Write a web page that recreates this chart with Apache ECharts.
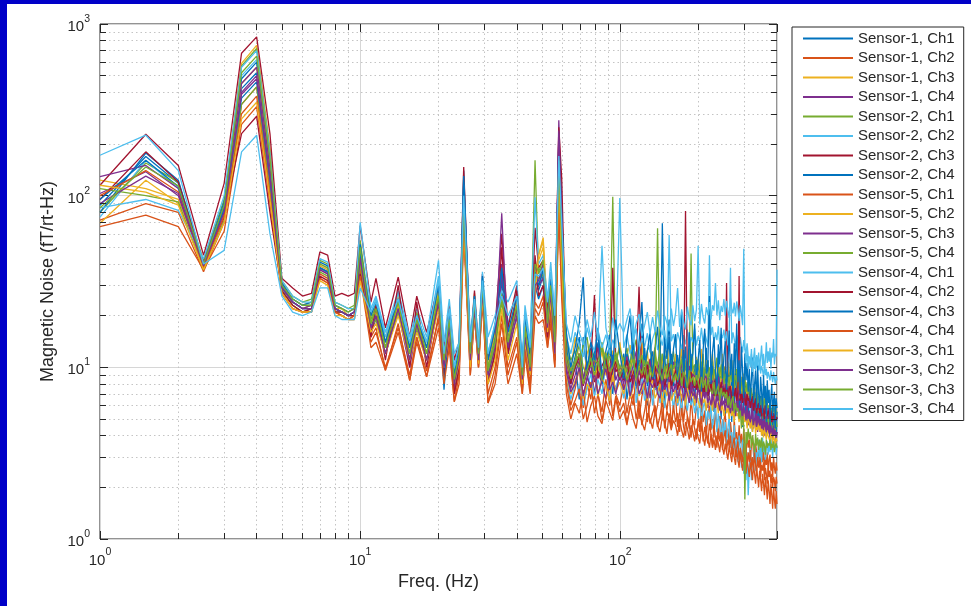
<!DOCTYPE html>
<html><head><meta charset="utf-8">
<script src="https://cdn.jsdelivr.net/npm/echarts@6/dist/echarts.min.js"></script>
<style>html,body{margin:0;padding:0;background:#0000c8;width:971px;height:606px;overflow:hidden}
#c{position:absolute;left:7px;top:4px;width:964px;height:602px;background:#fff}</style>
</head><body><div id="c"></div>
<script>
const freq = [1,1.5,2,2.5,3,3.5,4,4.5,5,5.5,6,6.5,7,7.5,8,8.5,9,9.5,10,
 11,11.5,12.5,14,15.5,16.5,18,20,21,22,23,24,
 25,26.5,27.5,28.5,29.5,31,33,35,37,40,42,43,45,47,48.5,50.5,52.5,54,56,58,59.5,
 62,64.5,67,69.5,72,74.5,77,79.5,82,85,88,91,93.5,96,99.5,
 103,106,109,112,115,118,121,124,127,130,
 133,136,139,142,145,148,151,154,157,160,
 163,166,169,172,175,178,181,184,187,190,
 193,196,199,202,205,208,211,214,217,220,
 223,226,229,232,235,238,241,244,247,250,
 253,256,259,262,265,268,271,274,277,280,
 283,286,289,292,295,298,301,304,307,310,
 313,316,319,322,325,328,331,334,337,340,
 343,346,349,352,355,358,361,364,367,370,
 373,376,379,382,385,388,391,394,397,400];

const s1c1 = [88,169,118,38,80,420,520,140,29,24,22,23,38,36,22,21,20,21,45,
 18,22,13,24,12,19,12,26,10,18,8,11,
 140,12,24,11,30,9,14,35,14,22,8.5,16,10,30,25,30,17,28,13,200,70,
 14,8,11,6.5,15,9,7.5,12,16,8,10,13,7,11,9,
 12,6.5,9,14,7.5,10,18,8,6,11, 9,13,7,8.5,12,6,10,15,7.5,9,
 11,6,8,13,9.5,5.8,10,7,12,8, 6.5,9,11,7,5.5,10,8,13,6.2,9,
 7.5,11,5.5,8.5,6.5,12,7,5,9.5,7.8, 5.2,8,10,6,7,4.8,9,6.5,11,5.5,
 7.2,5,8.5,6,4.5,9,6.8,5.2,7.5,4.6, 6.5,8,5,4.2,7,5.8,4.4,7.6,5,6,
 4.3,6.8,5.4,4,6.2,4.8,7,4.1,5.6,4.5, 6,3.8,5.2,4.6,3.9,6.4,4.4,5,3.7,5.5];
const s1c2 = [66,77,66,37,62,260,330,90,27,22,21,22,33,31,21,20,19,20,36,
 15,17,9.6,18,8.4,15,8.8,20,9,14,6.3,9,
 70,9,20,10,25,6.2,9,18,9,14,7,12,7.5,22,20,24,13,20,10,90,30,
 9,6,7.5,10,5.8,8,6.5,11,7,5.5,8.5,6,9.5,7,6,
 8,5.4,7,6,9,5,6.8,7.8,4.8,6.2, 7.4,5.2,6,8.2,4.9,6.6,5.6,7.2,4.6,5.9,
 6.8,4.5,5.5,7,4.8,6.2,5.2,4.4,6.6,5, 4.6,6,5.4,4.2,6.4,4.8,5.6,4,5.2,6,
 4.3,5,3.9,5.8,4.4,3.8,5.2,4.6,3.6,4.9, 5.4,3.9,4.4,3.5,4.8,4,3.4,5,3.8,4.2,
 3.3,4.6,3.6,4.1,3.2,4.4,3.5,3,4.2,3.4, 3.8,2.9,3.5,4,3.1,2.8,3.6,3.2,2.7,3.4,
 3,2.6,3.3,2.8,3.5,2.5,3,2.7,3.2,2.4, 2.9,3.1,2.5,2.8,2.3,3,2.6,2.4,2.8,2.5];
const s1c3 = [123,110,95,40,90,590,750,190,31,25,23,24,40,38,23,22,21,22,50,
 20,24,15,26,13,20,14,30,12,20,9,12,
 90,13,27,12,32,10,16,30,16,25,9,18,11,35,45,57,20,30,15,160,60,
 13,9.5,15,11,8.5,12,14,10,9,13,11.5,8.8,12.5,10,14,
 9.5,12,13.5,8.6,11,10,14,9,12.5,8.4, 11.5,13,9.2,10.5,8.5,12,14,9.6,10.8,8.8,
 12,9,10.5,13,8.2,11,9.5,12.5,8.6,10.2, 9,11.5,8.4,10,12.8,9.2,8,11,9.8,8.6,
 10.4,12,8.2,9.4,11.2,7.8,10,8.8,12,8.4, 9.6,7.6,10.8,8.8,9.4,7.4,11,8.2,9,7.8,
 8.4,10,7.2,8.8,6.8,9.2,7.6,8,6.6,7.4, 8,6.2,7.2,6.6,5.8,7.6,6.4,6,7,5.6,
 6.6,5.4,6.2,7,5.2,6,5.6,4.8,6.4,5.2, 5.8,4.9,5.6,5,4.6,6,5.2,4.5,5.4,5];
const s1c4 = [103,138,100,38,82,400,500,130,30,24,22,22,37,35,22,21,20,20,42,
 16,20,12,22,11,17,11,23,10,17,7.5,10.5,
 100,11,22,11,28,8,12,40,12,20,8,15,9,28,30,36,16,25,12,275,80,
 10,7.5,9,11,6.8,8.5,10.5,7,9.5,8,6.5,10,8.8,7.2,9.6,
 8,10,6.8,9,7.6,11,7,8.4,9.6,6.6, 9.2,7.4,8,10.2,6.8,8.6,7.2,9.4,6.5,8.2,
 7.6,9.8,6.6,8,8.8,6.4,7.8,9,6.2,8.4, 7,6,8.6,7.4,6.2,9,6.6,7.8,5.8,7.2,
 8.2,6,7,5.6,8,6.4,7.2,5.4,6.8,7.6, 5.8,6.6,7.4,5.2,6.8,6,5.4,7,5.6,6.2,
 6.6,5,5.8,6.4,4.8,6,5.4,5,6.2,4.6, 5.6,4.5,5.4,6,4.4,5,4.6,5.6,4.2,5.2,
 4.8,4.2,5.4,4.4,4.9,4,5.2,4.3,4.6,4.1, 4.8,3.9,4.5,4.2,3.8,4.6,4,4.4,3.7,4.2];
const s2c1 = [80,155,120,42,95,570,720,180,32,26,24,25,42,40,24,23,22,23,55,
 19,23,14,25,13,21,13,28,12,21,9,12,
 95,13,26,12,31,10,15,28,15,24,9.5,19,11,161,35,40,18,30,14,140,55,
 14,11,12.5,9.5,13.5,15,10,12,11,14,9.8,12.8,98.5,11,13,
 10.5,13,9.6,12,14.5,10,11.2,9,12.6,13.4, 9.4,11.8,10.2,13,8.8,11,12.2,9.2,10.6,12.4,
 9,11.4,10,8.6,12,9.6,10.8,8.4,11.6,9.8, 10.4,8.4,11.2,9,10,12,8.6,9.6,11,8.8,
 9.4,10.8,8.2,9.8,11.4,8.4,9,10.4,7.8,9.6, 10.2,8,9.2,7.8,10.6,8.6,9.4,7.6,8.8,9.8,
 7.8,8.4,9.4,7.2,8.2,6.8,8.8,7.4,6.6,8, 7,6.2,7.6,5.8,6.8,6.4,5.6,7.2,5.4,6.4,
 5.8,5.2,6.6,5,5.6,6,4.8,5.4,5.8,4.6, 5.4,4.8,5.6,4.4,5,4.6,5.2,4.2,4.9,4.5];
const s2c2 = [75,160,110,39,88,500,620,160,30,25,23,23,39,37,23,22,20,21,48,
 21,25,15,27,14,20,14,34,13,22,10,13,
 110,14,25,13,33,12,18,30,18,28,10,20,12,40,32,38,22,33,16,150,65,
 9,6.5,8,10,6,7.5,9.2,6.8,8.5,7,10.5,6.4,8.2,7.6,9,
 6.6,8.4,7,20,6.2,7.8,8.8,6.4,7.4,9, 6,7.6,8.4,6.2,7.2,5.8,8,6.6,7.4,5.6,
 7.8,6,6.8,5.4,7.6,6.4,5.6,7,6,6.6, 5.4,6.2,5,6.8,4.8,5.8,6.4,4.6,5.6,5,
 6,4.4,5.2,5.8,4.2,5.4,4.6,3.8,5,4, 4.8,3.6,4.4,5.2,3.4,4.2,3,4.6,3.2,3.8,
 2.8,4,3.4,2.6,3.8,2.4,3.6,2.2,3.2,1.8, 2.6,3.4,2.2,3,2.8,3.6,2.5,3.2,2.9,3.8,
 3,3.5,2.8,3.9,3.2,3.6,2.9,3.4,3.7,3.1, 3.6,3.2,3.9,3.4,3,3.7,3.3,3.8,3.1,3.5];
const s2c3 = [115,228,150,45,118,676,842,230,33,29,26,27,47,45,26,27,26,27,67,
 24,33,17,33.5,15,26,16,30,13,23,11,14,
 147,13,28,13,35,11,17,60,17,30,10,21,12,65,38,42,21,35,17,250,127,
 12,8.5,10,11.5,8,9.5,13,8.2,10.8,9,11,7.8,38,9.4,10.2,
 8.4,11,9.6,7.8,10.4,29.5,8.6,10,8,11.2, 9.2,7.6,10.2,8.8,7.4,9.8,8.4,10.6,7.6,9,
 8.6,10,7.4,9.2,8,7.2,9.6,8.2,7,8.8, 9.4,7.4,8.4,7,9,8,7.2,8.6,6.8,8.2,
 7.6,8.8,6.8,8,7.4,9,6.6,7.8,8.4,6.8, 7.6,31,7,8.2,6.6,7.4,8,6.4,7.2,6.8,
 7.8,6.4,7,8,6.2,7.4,6.6,6,7.2,6.4, 6.8,5.8,6.4,7,5.6,6.2,6.6,5.4,6,5.8,
 6.4,5.2,5.8,6.2,5,5.6,6,5.2,5.4,5.8, 5,5.6,5.2,4.8,5.4,5,5.6,4.8,5.2,5];
const s2c4 = [80,177,123,40,92,480,600,150,31,25,23,24,41,39,23,22,21,22,52,
 17,21,13,23,11,18,12,25,10,19,8,11,
 120,12,23,11,29,9,14,32,13,23,9,16,10,32,28,34,17,30,14,190,75,
 13,9,11.5,15,8.5,10,12.5,9.5,14,8,11,13.5,9,12,10,
 8.6,12,10.4,14,8,11,9.2,13,7.8,10.6, 12.4,8.4,10,9,69,11.6,8.2,9.8,12,7.8,
 10.2,11.8,8,9.4,12.6,7.6,10,8.6,11.2,7.8, 9.6,11,7.4,8.8,10.4,7.2,9.8,8,11,7.4,
 8.4,10.2,7,9.4,7.8,10.6,6.8,8.6,9.2,7, 9.6,6.8,8,9,6.6,8.6,7.4,6.4,9.2,7,
 7.6,8.4,6.2,7.2,8.8,6,7.8,6.6,7,8, 6.2,7.4,5.8,6.8,5.6,7.2,6,5.4,6.6,5.8,
 6.4,5.2,5.8,6.6,5,6,5.4,4.8,6.2,5.2, 5.6,4.8,5.4,5.8,4.6,5.2,5,4.4,5.4,5];
const s5c1 = [72,90,80,36,70,340,430,110,28,23,21,21,35,33,21,20,19,19,38,
 14,16,10,17,9,15,9.5,19,8.5,15,7,9.5,
 65,10,21,10,26,7,10,20,10,15,7.5,13,8,24,22,26,14,22,11,100,35,
 8,5.6,6.4,7.5,5,6,8.2,5.4,7,4.9,6.6,7.8,5.2,6.8,5.5,
 6.2,4.8,5.8,7,5,6.4,4.6,5.6,6.8,4.7, 5.4,6,4.5,5.2,6.4,4.4,5.6,5,4.3,6,
 4.8,5.4,4.2,5.8,4.5,4,5.2,4.6,3.9,5, 4.4,3.8,4.9,4.2,5.2,3.7,4.5,4,3.6,4.7,
 4.1,3.5,4.6,3.9,3.4,4.4,3.7,4.2,3.3,3.9, 4.3,3.2,3.8,3.5,4,3.1,3.6,3.9,3,3.4,
 3.7,2.9,3.4,3.1,2.8,3.6,3,3.3,2.7,3.2, 2.8,3.3,2.6,3,2.5,3.2,2.7,2.4,3,2.6,
 2.9,2.3,2.7,2.5,2.8,2.2,2.6,2.4,2.1,2.6, 2.3,2.5,2.1,2.4,2,2.3,2.2,1.9,2.3,2.1];
const s5c2 = [69,123,90,38,78,450,560,145,29,24,22,23,39,37,22,22,20,21,46,
 18,21,13,23,12,19,12,27,11,19,8.5,11.5,
 85,12,25,12,30,9,13,26,14,24,9,17,10,30,42,50,18,28,13,170,50,
 11,8.6,10.4,12,8,9.6,11.5,8.8,10,12.4,9,10.6,8.4,11.2,9.4,
 11,8.4,9.8,12,8.8,10.2,9,11.4,8.2,10, 9.2,10.8,8,9.6,11.2,8.6,10,8.2,9.4,10.6,
 8.4,9.8,10.6,8,9.2,8.8,10.4,7.8,9,9.6, 8,9.4,7.6,10,8.4,9,7.8,9.6,8.2,7.6,
 9.2,7.4,8.6,9.6,7.6,8.2,7.2,8.8,7.8,8.4, 7,8.4,7.6,8.8,7.2,7.8,6.8,8.2,7.4,7,
 7.8,6.6,7.2,8,6.4,7.4,6.8,6.2,7.6,6.6, 6.8,6,7,6.2,5.8,6.6,6.2,5.6,6.8,6,
 6.2,5.6,6,5.4,6.4,5.8,5.2,6,5.6,5.4, 5.8,5.2,5.6,5,5.4,5.8,5,5.4,5.2,5.2];
const s5c3 = [129,150,110,41,86,450,560,145,30,24,22,23,38,36,22,21,20,21,44,
 16,19,12,21,10,17,11,24,9.5,17,8,10.5,
 100,11,22,11,27,8.5,12,36,12,20,8,14,9,27,30,33,15,26,12,230,70,
 11.5,9,10,12,8.6,10.8,9.2,11,13,8.8,10.4,9.6,11.8,8.4,10,
 9.4,11.6,8.8,10.2,12.4,9,10.6,8.6,9.8,11, 8.4,10,9.4,11.2,8.2,9.6,10.4,8,9.2,10.8,
 9.8,8,9.4,10.6,7.8,9,8.6,10.2,7.6,9.2, 8.8,9.8,7.6,8.4,9.4,7.4,8.6,9,7.2,8.2,
 7.8,9,7,8.4,7.6,8.8,7.2,7.8,8.6,6.8, 8,7.2,6.6,7.8,7.4,6.4,8.2,7,6.8,7.6,
 6.4,7.4,6.8,6.2,7.2,6.6,6,7,6.4,5.8, 6.8,6,6.4,5.6,6.6,5.8,6.2,5.4,6.4,5.8,
 5.6,6.2,5.4,5.8,5.2,6,5.4,5.6,5,5.8, 5.4,5,5.6,5.2,4.8,5.4,5,5.2,4.9,5.1];
const s5c4 = [110,100,92,37,72,340,430,115,28,23,21,22,36,34,21,21,20,20,40,
 17,19,12,21,11,17,11,25,10,18,8,11,
 75,11,23,11,28,9,13,24,13,22,8.5,16,10,34,33,35,16,28,13,130,45,
 12,9.5,11,13.5,10,9,12.5,11,10.4,13,9.6,11.6,10.8,12.2,9.8,
 11.4,9.4,10.6,12.6,9.2,10.2,11.8,9,10.8,10, 9.6,11.2,10,9,12,9.4,10.4,8.8,11,9.8,
 10.6,9.2,9.8,11.2,8.8,10.2,9.4,10.8,46,9.6, 9,10.4,8.6,9.6,10.8,8.4,9.8,9.2,8.6,10,
 9.4,8.4,9.8,8.8,8.2,10,9,8.6,9.6,8, 9.2,8.4,8.8,7.8,9.4,8.2,8.6,7.6,9,8.4,
 7.4,8.6,7.8,8.2,7,8,7.6,7.2,8.2,7, 7.4,6.8,7.2,6.4,7,6.6,6.2,7.2,6,6.8,
 6.4,6,6.8,5.8,6.2,6.6,5.6,6.2,5.8,6, 5.8,6.2,5.6,5.4,6,5.5,5.8,5.2,5.6,5.5];
const s4c1 = [85,95,82,43,100,560,700,175,32,26,24,24,43,41,24,23,22,22,70,
 22,26,16,28,15,22,15,42,14,25,12,14,
 115,15,26,14,36,15,20,28,24,32,11,23,14,98,40,45,25,41,20,180,60,
 15,12,16,13.5,11.5,17,14,12.5,16.5,13,15.5,12,14.5,13,97,
 13,15.5,12,14,16.8,12.4,14.8,13.2,15.8,12.2, 14.6,16.2,12.6,15,13.4,16.4,12.8,59,14.2,15.6,
 13,16,14.4,12.8,15.4,13.6,16.6,13,15,14, 16.8,13.4,15.2,14.2,17,13.6,15.8,14.6,13.2,45,
 15.4,17.2,13.8,16,14.4,17.4,13.6,15.6,14.8,16.6, 14,16.2,13.4,15.8,38,13.8,16,14.6,13.2,15.4,
 14.2,12.6,15,13.4,12.2,14.4,13,12,13.8,11.6, 11.6,10.4,12,10.2,11.2,9.8,11.4,10,10.8,9.6,
 10.6,9.2,10.2,9.6,8.8,10.4,9,9.8,8.6,9.4, 9.2,8.4,9.6,8.8,8.2,9.4,8.6,8,9,8.4];
const s4c2 = [95,180,120,40,75,230,290,80,28,23,21,22,34,32,21,21,20,20,35,
 15,23,11,30,10,24,10,24,9,16,7,10,
 105,11,22,11,28,8,12,50,12,28,8,15,9,45,26,30,15,24,11,220,90,
 11,8,10,12,7.8,9.4,10.6,26.4,8.6,10.2,11.4,8.2,9.8,10.8,8.4,
 9.6,11,8.2,9.2,10.6,7.8,9.8,8.6,10.4,8, 9.4,10.2,7.8,8.8,9.8,7.6,9,10,7.8,8.6,
 9.6,7.4,8.4,9.2,7.6,81.5,8.2,7.4,9.4,8, 7.6,8.8,7.2,8.4,9,7,8,7.4,8.6,7.2,
 8.2,7,7.8,8.6,6.8,7.6,7.2,8.2,6.8,7.6, 7,8,6.6,7.4,7.8,6.4,7.2,6.8,7.6,6.4,
 7.2,34,6.4,7,6.2,7.4,6.6,6,7,6.4, 6.6,5.8,6.4,6.8,5.6,6.2,6.6,5.4,6,6.2,
 5.4,6,5.2,5.8,5.6,5,6,5.4,5.2,5.6, 5.4,5,5.6,4.8,5.2,5.4,4.9,5.3,5,5.1];
const s4c3 = [95,161,113,39,84,370,460,125,29,24,22,22,38,36,22,21,20,21,47,
 20,24,14,25,13,20,13,30,7.4,20,9,13,
 130,13,26,12,34,11,17,38,16,26,10,20,12,36,30,37,19,32,15,210,80,
 16,10,13,18,33.5,9.5,14,11,17,8.8,12.5,15.5,10,19,12,
 9,15,20,11,7.8,14,24,10.2,12.4,16, 8.6,13,17.2,10,7.4,14.6,11.2,19,9,12.8,
 15.6,8.2,11.6,21,9.4,13.2,7.6,16,10.6,12, 18,8.4,11,14.4,7.2,12.6,16.8,9.2,10.8,26,
 8,12.2,15,9.6,7,13.6,10.4,17,8.6,11.4, 14.2,7.4,10.2,16.4,9,12,6.8,13.8,10,18,
 8.2,11,7,13.2,9.4,6.6,12,8.4,10.6,7.2, 9.8,6.4,8.6,11.4,6.2,8,9.6,5.8,10.2,7,
 5.8,8.8,7.2,5.4,9,6.6,7.8,5.2,8.4,6.2, 7.4,5,6.8,8,5.2,6.4,7.2,4.8,6.6,5.8];
const s4c4 = [100,140,105,38,76,300,380,100,27,22,21,21,33,31,21,20,19,20,34,
 13,14,9.6,16,8.4,14,8.8,17,8,13,6.3,8,
 60,9,20,10,24,6.2,8,15,8,12,7,12,7,20,18,19,13,18,10,80,25,
 7,5,6.2,5.4,7.4,4.8,6,6.8,5.2,4.7,6.4,5.5,4.9,6.6,5,
 5.6,4.6,6,5,4.4,5.8,4.8,4.3,5.4,5, 4.4,5.6,4.6,4.2,5.2,4.8,4.1,5.4,4.4,4.9,
 4.6,4,5,4.3,3.9,4.8,4.4,3.8,4.6,4.2, 3.7,4.4,3.9,3.6,4.6,4,3.5,4.2,3.8,3.4,
 4.1,3.4,3.8,3.3,4,3.6,3.2,3.9,3.4,3.1, 3.6,3.2,2.9,3.5,3.1,2.8,3.4,3,2.7,3.3,
 2.9,2.6,3.2,2.8,2.5,3,2.7,2.4,2.9,2.6, 2.3,2.8,2.5,2.2,2.7,2.4,2.1,2.6,2.3,2,
 2.5,2.2,1.9,2.4,2.1,1.8,2.3,2,1.7,2.2, 1.9,1.6,2.1,1.8,1.5,2,1.7,1.5,1.9,1.6];
const s3c1 = [115,105,88,37,70,280,350,95,27,22,21,21,32,30,20,20,19,19,32,
 16,18,12,20,11,16,11,22,10,16,8,10.5,
 70,10,21,10.5,26,8,11,22,11,18,8,14,9,26,45,55,16,24,12,140,40,
 9,7,8.4,9.6,6.6,8,7.4,9.2,6.8,8.6,7.8,6.4,9,7.2,8.2,
 7,8.6,6.6,7.6,9,6.8,7.4,8.2,6.4,7.8, 8.4,6.6,7.2,8,6.2,7.6,6.8,8.2,6.4,7,
 7.4,6.2,7.8,6.6,7,6,7.6,6.4,6.8,7.2, 6,7,6.4,5.8,7.2,6.2,6.6,5.6,6.8,6,
 6.4,5.6,6.8,5.8,6.2,5.4,6.6,5.6,6,5.2, 6.2,5.4,5.8,5,6,5.2,5.6,4.8,5.8,5.2,
 5.4,4.8,5.6,5,4.6,5.4,4.8,5.2,4.4,5, 4.8,4.4,5,4.2,4.6,4.9,4.1,4.6,4.3,4.8,
 4.2,4.6,4,4.4,3.9,4.5,4.1,3.8,4.3,4, 4.1,3.7,4.2,3.9,3.6,4,3.8,3.5,3.9,3.7];
const s3c2 = [90,130,103,39,80,390,480,125,29,24,22,22,37,35,22,21,20,21,43,
 17,20,12,22,11,18,11,24,10,17,8,11,
 90,11,22,11,28,9,13,79,13,22,8.5,15,9.5,30,32,40,17,27,12,240,75,
 9.4,7.2,8,10,6.8,8.8,7.6,9.2,7,8.4,9.8,7.4,8.2,7,9,
 7.4,8.8,6.8,8,9.4,7,7.8,8.6,6.6,8.2, 7.6,8.6,7,6.6,8.4,7.4,8,6.4,7.8,7.2,
 8,6.6,7.4,8.2,6.4,7.6,7,6.2,7.8,6.8, 7.2,6.4,7.6,6.8,6,7.2,6.6,7.4,6.2,6.8,
 6,7,6.4,5.8,6.8,6.2,5.6,6.6,6,6.4, 5.6,6.4,5.8,6.2,5.4,6.6,5.6,6,5.2,6.2,
 5.8,5.2,6,5.4,5,5.8,5.6,4.9,5.6,5.2, 5.4,4.8,5.2,5.6,4.6,5,5.4,4.5,5.2,4.8,
 4.6,5,4.4,4.8,4.3,5,4.5,4.2,4.8,4.4, 4.5,4.1,4.6,4.2,4,4.4,4.1,4.3,3.9,4.2];
const s3c3 = [85,147,114,40,88,520,650,165,30,25,23,23,40,38,23,22,21,22,50,
 18,22,13,24,12,19,12,26,11,19,8.5,12,
 85,12,24,12,30,9.5,14,26,14,23,9,17,10,40,36,42,18,30,14,160,55,
 11,8.6,10.4,12,8,9.6,11.4,9,10.8,8.4,12.2,9.4,10,11.6,8.8,
 10.4,8.4,9.6,11.2,8.6,10,9.2,11,8.2,9.8, 8.8,10.6,64.5,9.4,8.4,10.2,8.6,9.6,10.4,8.2,
 9.2,8.4,10,7.8,9.4,8.8,7.6,9.6,8.2,8.8, 7.8,9,8.2,7.4,8.8,7.6,8.4,7.2,8.6,7.6,
 7.8,7,8.2,6.8,7.4,7.8,6.4,7.6,6.8,7.2, 6.6,7.2,6,6.8,5.8,6.4,6.8,5.4,6.2,5.6,
 5.8,5,5.6,4.4,5.2,4.6,1.7,4.2,3.6,4.4, 3.8,4.2,3.4,4,3.6,3.2,4.1,3.5,3.9,3.3,
 3.8,3.4,3.9,3.2,3.7,3.5,3.1,3.8,3.4,3.6, 3.5,3.8,3.3,3.6,3.4,3.7,3.2,3.5,3.6,3.4];
const s3c4 = [172,225,140,40,48,180,225,60,26,21,20,21,29,29,20,19,19,19,29,
 21,24,16,25,14,20,14,32,12,22,10,14,
 100,14,25,13,32,12,18,26,20,26,10,21,13,35,34,38,24,36,20,170,70,
 18,14,20,16,13.5,19,15,21,14.5,51,17,13,19.5,15.5,18,
 16,19,22,14.8,18,20.4,15.2,17.6,21,15.6, 19.6,16,21.4,17,15.4,20,18.2,16.2,22,17.4,
 20.6,29,17.2,21.8,18.4,16.6,22.6,19,17.6,23, 18.6,21.6,51,17.8,23.4,19.6,18,22.4,20.2,24,
 19,23,21.4,31,20.2,24.6,18.8,22.8,21,25, 20,24.4,21.6,19.4,25.2,22,20.6,23.8,19.8,24.2,
 21.6,18.6,23,20.4,17.6,49,13,10.6,12.4,9.8, 11.6,10,12.8,9.4,11.2,13,9.6,11.8,10.4,12.2,
 9.8,11.4,13.4,10.2,12,9.6,11,14,10.6,12.4, 10.8,13,9.8,12.2,11.4,14.6,10.4,12,11.6,37];

const seriesNames = ['Sensor-1, Ch1','Sensor-1, Ch2','Sensor-1, Ch3','Sensor-1, Ch4',
 'Sensor-2, Ch1','Sensor-2, Ch2','Sensor-2, Ch3','Sensor-2, Ch4',
 'Sensor-5, Ch1','Sensor-5, Ch2','Sensor-5, Ch3','Sensor-5, Ch4',
 'Sensor-4, Ch1','Sensor-4, Ch2','Sensor-4, Ch3','Sensor-4, Ch4',
 'Sensor-3, Ch1','Sensor-3, Ch2','Sensor-3, Ch3','Sensor-3, Ch4'];
const seriesValues = [s1c1,s1c2,s1c3,s1c4,s2c1,s2c2,s2c3,s2c4,s5c1,s5c2,s5c3,s5c4,
 s4c1,s4c2,s4c3,s4c4,s3c1,s3c2,s3c3,s3c4];
const palette = ['#0072BD','#D95319','#EDB120','#7E2F8E','#77AC30','#4DBEEE','#A2142F'];
const xMinor = [2,3,4,5,6,7,8,9,20,30,40,50,60,70,80,90,200,300];
const yMinor = [2,3,4,5,6,7,8,9,20,30,40,50,60,70,80,90,200,300,400,500,600,700,800,900];

const FONT = 'Liberation Sans, Arial, Helvetica, sans-serif';
const INK = '#262626';
function powLabel(v) {
  const l = Math.log10(v), e = Math.round(l);
  if (Math.abs(l - e) > 1e-6) return '';
  return '{b|10}{s|' + e + '}';
}
const rich = {
  b: {fontSize: 15, fontFamily: FONT, color: INK, padding: [6, 0, 0, 0], verticalAlign: 'bottom'},
  s: {fontSize: 10.5, fontFamily: FONT, color: INK, verticalAlign: 'top'}
};

const chart = echarts.init(document.getElementById('c'), null, {renderer: 'canvas'});

const series = seriesValues.map((vals, k) => ({
  name: seriesNames[k],
  type: 'line',
  data: freq.map((f, i) => [f, vals[i]]),
  symbol: 'none',
  showSymbol: false,
  color: palette[k % palette.length],
  lineStyle: {width: 1.3, color: palette[k % palette.length]},
  emphasis: {disabled: true},
  silent: true,
  z: 3
}));

const minorGrid = [];
xMinor.forEach(f => minorGrid.push({xAxis: f}));
yMinor.forEach(v => minorGrid.push({yAxis: v}));
const TX = 1.084, TY = 1.0546;
const minorTicks = [];
xMinor.forEach(f => {
  minorTicks.push([{coord: [f, 1]}, {coord: [f, TX]}]);
  minorTicks.push([{coord: [f, 1000 / TX]}, {coord: [f, 1000]}]);
});
yMinor.forEach(v => {
  minorTicks.push([{coord: [1, v]}, {coord: [TY, v]}]);
  minorTicks.push([{coord: [400 / TY, v]}, {coord: [400, v]}]);
});

series.unshift({
  name: '_grid', type: 'line', data: [[1, 1]], symbol: 'none', silent: true, z: 1,
  lineStyle: {width: 0},
  markLine: {
    silent: true, z: 1, animation: false, symbol: ['none', 'none'],
    label: {show: false}, emphasis: {disabled: true},
    lineStyle: {type: [1.5, 3], color: '#c4c4c4', width: 1},
    data: minorGrid
  }
});
series.push({
  name: '_ticks', type: 'line', data: [[1, 1]], symbol: 'none', silent: true, z: 10,
  lineStyle: {width: 0},
  markLine: {
    silent: true, z: 10, animation: false, symbol: ['none', 'none'],
    label: {show: false}, emphasis: {disabled: true},
    lineStyle: {type: 'solid', color: INK, width: 1},
    data: minorTicks
  }
});

const axisCommon = {
  type: 'log', logBase: 10,
  axisLine: {show: false},
  axisTick: {show: true, inside: true, length: 8, lineStyle: {color: INK, width: 1}},
  minorTick: {show: false},
  minorSplitLine: {show: false}
};

chart.setOption({
  animation: false,
  backgroundColor: '#ffffff',
  textStyle: {fontFamily: FONT},
  grid: {left: 93, top: 20, right: 194, bottom: 67, show: true,
    borderColor: INK, borderWidth: 1, backgroundColor: '#ffffff'},
  legend: {
    data: seriesNames, orient: 'vertical', left: 785, top: 23,
    backgroundColor: '#ffffff', borderColor: INK, borderWidth: 1,
    padding: [4, 9, 4, 11], itemWidth: 50, itemHeight: 2, itemGap: 4.5,
    icon: 'rect',
    textStyle: {fontSize: 15, fontFamily: FONT, color: INK, lineHeight: 15},
    selectedMode: false
  },
  xAxis: [
    Object.assign({}, axisCommon, {
      position: 'bottom', min: 1, max: 400,
      name: 'Freq. (Hz)', nameLocation: 'middle', nameGap: 32,
      nameTextStyle: {fontSize: 18, fontFamily: FONT, color: INK},
      axisLabel: {show: true, margin: 8, formatter: powLabel, rich: rich},
      splitLine: {show: true, lineStyle: {color: '#d6d6d6', width: 1}}
    }),
    Object.assign({}, axisCommon, {
      position: 'top', min: 1, max: 400,
      axisLabel: {show: false}, splitLine: {show: false}
    })
  ],
  yAxis: [
    Object.assign({}, axisCommon, {
      position: 'left', min: 1, max: 1000,
      name: 'Magnetic Noise (fT/rt-Hz)', nameLocation: 'middle', nameGap: 42,
      nameTextStyle: {fontSize: 18, fontFamily: FONT, color: INK},
      axisLabel: {show: true, margin: 10, formatter: powLabel, rich: rich},
      splitLine: {show: true, lineStyle: {color: '#d6d6d6', width: 1}}
    }),
    Object.assign({}, axisCommon, {
      position: 'right', min: 1, max: 1000,
      axisLabel: {show: false}, splitLine: {show: false}
    })
  ],
  series: series
});
</script>
</body></html>
